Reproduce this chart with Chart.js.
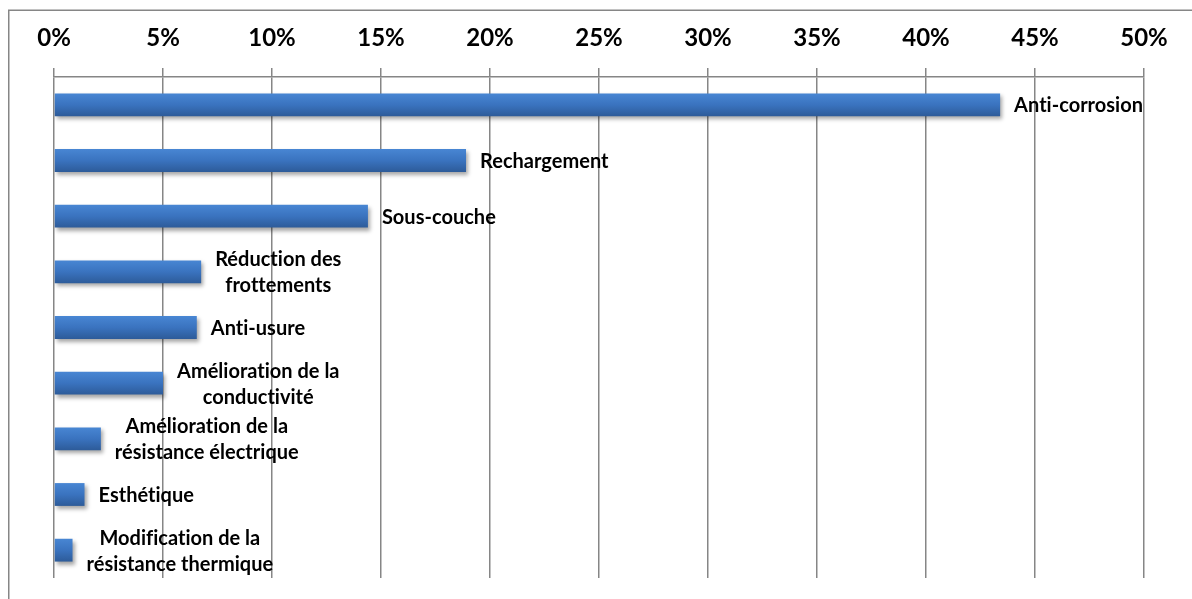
<!DOCTYPE html>
<html>
<head>
<meta charset="utf-8">
<script src="https://cdn.jsdelivr.net/npm/chart.js@4/dist/chart.umd.min.js"></script>
<style>
html,body{margin:0;padding:0;background:#fff;overflow:hidden;}
#wrap{position:absolute;left:0;top:0;width:1192px;height:599px;}
</style>
</head>
<body>
<div id="wrap"><canvas id="c" width="1192" height="599"></canvas></div>
<script>
const categories = [
  'Anti-corrosion',
  'Rechargement',
  'Sous-couche',
  ['Réduction des', 'frottements'],
  'Anti-usure',
  ['Amélioration de la', 'conductivité'],
  ['Amélioration de la', 'résistance électrique'],
  'Esthétique',
  ['Modification de la', 'résistance thermique']
];
const shares = [43.4, 18.9, 14.4, 6.75, 6.55, 5.0, 2.15, 1.4, 0.85];
const tickValues = [0, 5, 10, 15, 20, 25, 30, 35, 40, 45, 50];

const FONT = 'Lato, "Noto Sans", sans-serif';
const BAR_PCT = 0.41;

function noLigatures(ctx) {
  try { ctx.letterSpacing = '0.01px'; } catch (e) {}
  try { ctx.textRendering = 'optimizeSpeed'; } catch (e) {}
}

const framePlugin = {
  id: 'frame',
  beforeDraw(chart) {
    const ctx = chart.ctx;
    noLigatures(ctx);
    ctx.save();
    ctx.strokeStyle = '#868686';
    ctx.lineWidth = 1.5;
    ctx.beginPath();
    ctx.moveTo(8.75, 700);
    ctx.lineTo(8.75, 10.25);
    ctx.lineTo(1300, 10.25);
    ctx.stroke();
    ctx.restore();
  }
};

const shadowPlugin = {
  id: 'barShadow',
  beforeDatasetsDraw(chart) {
    const ctx = chart.ctx;
    ctx.save();
    ctx.shadowColor = 'rgba(0,0,0,0.35)';
    ctx.shadowBlur = 4;
    ctx.shadowOffsetX = 2;
    ctx.shadowOffsetY = 3;
  },
  afterDatasetsDraw(chart) {
    chart.ctx.restore();
  }
};

const labelPlugin = {
  id: 'catLabels',
  afterDatasetsDraw(chart) {
    const ctx = chart.ctx;
    const meta = chart.getDatasetMeta(0);
    ctx.save();
    noLigatures(ctx);
    ctx.font = 'bold 20px ' + FONT;
    ctx.fillStyle = '#000';
    ctx.textBaseline = 'middle';
    ctx.textAlign = 'center';
    const lh = 26;
    meta.data.forEach((bar, i) => {
      const lab = categories[i];
      const lines = Array.isArray(lab) ? lab : [lab];
      const w = Math.max(...lines.map(l => ctx.measureText(l).width));
      const cx = bar.x + 14 + w / 2;
      const y0 = bar.y - (lines.length - 1) * lh / 2;
      lines.forEach((l, k) => ctx.fillText(l, cx, y0 + k * lh + 1));
    });
    ctx.restore();
  }
};

function barFill(c) {
  const chart = c.chart;
  const area = chart.chartArea;
  const ys = chart.scales && chart.scales.y;
  if (!area || !ys || c.dataIndex === undefined) return '#3a73bd';
  const y = ys.getPixelForValue(c.dataIndex);
  const h = (area.bottom - area.top) / categories.length * BAR_PCT;
  if (!isFinite(y) || !isFinite(h)) return '#3a73bd';
  const g = chart.ctx.createLinearGradient(0, y - h / 2, 0, y + h / 2);
  g.addColorStop(0, '#4886d3');
  g.addColorStop(0.5, '#3a73bf');
  g.addColorStop(1, '#2d5b99');
  return g;
}

const ctx = document.getElementById('c').getContext('2d');
new Chart(ctx, {
  type: 'bar',
  data: {
    labels: categories,
    datasets: [{
      data: shares,
      backgroundColor: barFill,
      borderWidth: 0,
      barPercentage: BAR_PCT,
      categoryPercentage: 1
    }]
  },
  options: {
    indexAxis: 'y',
    responsive: false,
    animation: false,
    devicePixelRatio: 1,
    layout: { padding: { left: 54, right: 48, top: 20, bottom: 21 } },
    plugins: { legend: { display: false }, tooltip: { enabled: false } },
    scales: {
      x: {
        position: 'top',
        min: 0,
        max: 50,
        afterBuildTicks(scale) {
          scale.ticks = tickValues.map(v => ({ value: v }));
        },
        afterFit(scale) { scale.height = 57; },
        ticks: {
          padding: 15,
          color: '#000',
          font: { family: FONT, size: 24, weight: 'bold' },
          callback: v => v + '%'
        },
        grid: {
          color: '#868686',
          lineWidth: 1.5,
          tickLength: 9,
          drawOnChartArea: true
        },
        border: { display: true, color: '#868686', width: 1.5 }
      },
      y: {
        display: false,
        offset: true
      }
    }
  },
  plugins: [framePlugin, shadowPlugin, labelPlugin]
});
</script>
</body>
</html>
